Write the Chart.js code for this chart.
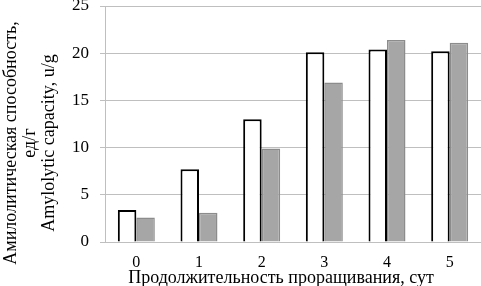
<!DOCTYPE html>
<html>
<head>
<meta charset="utf-8">
<script src="https://cdn.jsdelivr.net/npm/chart.js@4.4.0/dist/chart.umd.min.js"></script>
<style>
html,body{margin:0;padding:0;background:#fff;}
#wrap{width:481px;height:286px;position:relative;}
</style>
</head>
<body>
<div id="wrap"><canvas id="c" width="481" height="286"></canvas></div>
<script>
const categories = ['0', '1', '2', '3', '4', '5'];
const seriesWhite = [3.4, 7.7, 13.0, 20.1, 20.4, 20.2];
const seriesGray = [2.6, 3.1, 9.9, 16.9, 21.4, 21.1];
const yTicks = [0, 5, 10, 15, 20, 25];
const yTitleLines = ['Амилолитическая способность,', 'ед/г', 'Amylolytic capacity, u/g'];
const xTitle = 'Продолжительность проращивания, сут';

const FONT = "'Liberation Serif', 'Times New Roman', serif";

const titlesPlugin = {
  id: 'axisTitles',
  afterDraw(chart) {
    const ctx = chart.ctx;
    ctx.save();
    ctx.fillStyle = '#000';
    ctx.font = '18px ' + FONT;
    ctx.textAlign = 'center';
    ctx.textBaseline = 'middle';
    const xs = [11, 30, 49];
    yTitleLines.forEach((t, i) => {
      ctx.save();
      ctx.translate(xs[i], 143);
      ctx.rotate(-Math.PI / 2);
      ctx.fillText(t, 0, 0);
      ctx.restore();
    });
    ctx.textBaseline = 'alphabetic';
    ctx.fillText(xTitle, 281, 283);
    ctx.restore();
  }
};

new Chart(document.getElementById('c'), {
  type: 'bar',
  data: {
    labels: categories,
    datasets: [
      {
        data: seriesWhite,
        backgroundColor: '#ffffff',
        borderColor: '#000000',
        borderWidth: 2,
        borderSkipped: 'bottom'
      },
      {
        data: seriesGray,
        backgroundColor: '#a6a6a6',
        borderColor: '#8c8c8c',
        borderWidth: 1.5,
        borderSkipped: 'bottom'
      }
    ]
  },
  options: {
    responsive: false,
    animation: false,
    devicePixelRatio: 1,
    layout: { padding: { left: 0, right: 0, top: 0, bottom: 0 } },
    plugins: { legend: { display: false }, tooltip: { enabled: false } },
    datasets: { bar: { categoryPercentage: 0.59, barPercentage: 1.0 } },
    scales: {
      x: {
        grid: { display: false },
        border: { display: true, color: '#bfbfbf', width: 1 },
        ticks: { color: '#000', font: { family: FONT, size: 16 }, padding: 3 },
        afterFit(s) { s.height = 44; s.paddingLeft = 0; s.paddingRight = 0; }
      },
      y: {
        min: 0,
        max: 25,
        afterBuildTicks(s) { s.ticks = yTicks.map(v => ({ value: v })); },
        grid: { color: '#bfbfbf', lineWidth: 1, tickLength: 5, drawTicks: true, tickColor: '#bfbfbf' },
        border: { display: true, color: '#bfbfbf', width: 1 },
        ticks: { color: '#000', font: { family: FONT, size: 17 }, padding: 11 },
        afterFit(s) { s.width = 105; s.paddingTop = 6; s.paddingBottom = 0; }
      }
    }
  },
  plugins: [titlesPlugin]
});
</script>
</body>
</html>
